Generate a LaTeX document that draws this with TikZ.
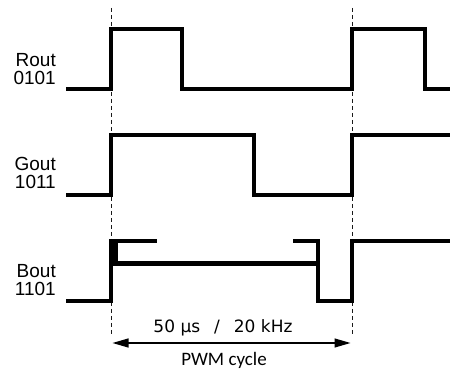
\documentclass[tikz,border=0pt]{standalone}
\usepackage{fontspec}
\setmainfont{Liberation Sans}
\newfontfamily\cyclefont{Carlito}
\newfontfamily\periodfont{DejaVu Sans}
\usetikzlibrary{calc,arrows.meta}
\definecolor{trace}{HTML}{000000}
\definecolor{guide}{HTML}{1A1A1A}

\begin{document}
\begin{tikzpicture}[x=1pt,y=-1pt]
\useasboundingbox (0,0) rectangle (450,371);
\tikzset{
  wave/.style={trace, line width=4.2pt},
  guideline/.style={guide, line width=1pt, dash pattern=on 4.5pt off 2.5pt},
  chanlabel/.style={anchor=east, align=right, inner sep=0pt,
    font=\fontsize{19}{17.5}\selectfont}
}
% PWM cycle boundaries
\coordinate (S) at (111,8);
\coordinate (E) at (352,8);
\draw[guideline] (S) -- (S |- 0,337);
\draw[guideline] (E) -- (E |- 0,337);

% Rout 0101
\draw[wave] (66,89) -- (111,89) -- (111,29) -- (182,29) -- (182,89)
  -- (352,89) -- (352,29) -- (425,29) -- (425,89) -- (450,89);
\node[chanlabel] (rout) at (56,69) {Rout\\0101};

% Gout 1011
\draw[wave] (66,195) -- (111,195) -- (111,135) -- (254,135) -- (254,195)
  -- (352,195) -- (352,135) -- (450,135);
\node[chanlabel] (gout) at (56,173) {Gout\\1011};

% Bout 1101 (overlapping pulses)
\draw[wave] (66,301) -- (111,301) -- (111,241) -- (157,241);
\draw[wave] (115.5,241) -- (115.5,263.5) -- (318,263.5);
\draw[wave] (293,241) -- (318,241) -- (318,301) -- (352,301)
  -- (352,241) -- (450,241);
\node[chanlabel] (bout) at (56,280) {Bout\\1101};

% cycle length
\coordinate (A) at (112.5,343);
\coordinate (B) at (350.5,343);
\draw[trace, line width=1.2pt, {Triangle[length=16pt,width=9pt]}-{Triangle[length=16pt,width=9pt]}] (A) -- (B);
\node[anchor=base, inner sep=0pt, font=\periodfont\fontsize{17}{17}\selectfont] (period) at (223,333)
  {50 μs\hspace{14pt}/\hspace{14pt}20 kHz};
\node[anchor=base, inner sep=0pt, font=\cyclefont\fontsize{19}{19}\selectfont] (cycle) at (224,366)
  {PWM cycle};
\end{tikzpicture}
\end{document}
